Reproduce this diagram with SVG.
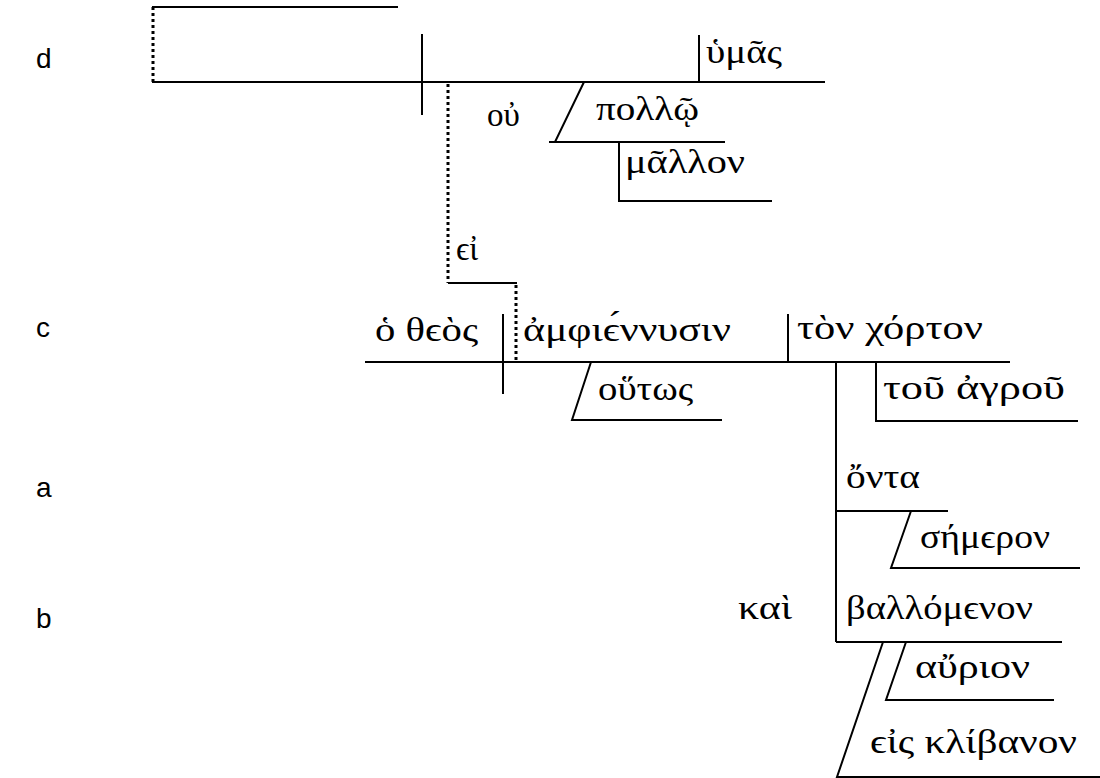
<svg xmlns="http://www.w3.org/2000/svg" width="1100" height="778" viewBox="0 0 1100 778">
<style>
.ln{stroke:#000;stroke-width:2;fill:none}
.dt{stroke:#000;stroke-width:3;fill:none;stroke-dasharray:3 3}
.g{font-family:"Liberation Serif","DejaVu Serif",serif;font-size:33px;fill:#000}
.lb{font-family:"Liberation Sans",Arial,sans-serif;font-size:28px;fill:#000}
</style>
<rect width="1100" height="778" fill="#fff"/>
<g id="labels">
<text class="lb" x="36" y="68">d</text>
<text class="lb" x="36" y="337">c</text>
<text class="lb" x="36" y="497">a</text>
<text class="lb" x="36" y="628">b</text>
</g>
<g id="connectors">
<line class="ln" x1="152" y1="7" x2="398" y2="7"/>
<line class="dt" x1="153" y1="7" x2="153" y2="82"/>
<line class="ln" x1="152" y1="82" x2="825" y2="82"/>
<line class="ln" x1="422" y1="34" x2="422" y2="115"/>
<line class="dt" x1="448" y1="84" x2="448" y2="283"/>
<line class="ln" x1="448" y1="283" x2="517" y2="283"/>
<line class="dt" x1="516" y1="285" x2="516" y2="361"/>
<line class="ln" x1="365" y1="362" x2="1010" y2="362"/>
<line class="ln" x1="503" y1="314" x2="503" y2="394"/>
<line class="ln" x1="788" y1="314" x2="788" y2="362"/>
<line class="ln" x1="836" y1="362" x2="836" y2="642"/>
</g>
<g id="n-humas">
<line class="ln" x1="699" y1="35" x2="699" y2="82"/>
<text class="g" x="706" y="63" textLength="76" lengthAdjust="spacingAndGlyphs">ὑμᾶς</text>
</g>
<g id="n-ou">
<text class="g" x="487" y="126">οὐ</text>
</g>
<g id="n-pollo">
<polyline class="ln" points="584,82 555,142 549,142 725,142"/>
<text class="g" x="596" y="120" textLength="103" lengthAdjust="spacingAndGlyphs">πολλῷ</text>
</g>
<g id="n-mallon">
<polyline class="ln" points="619,142 619,201 772,201"/>
<text class="g" x="625" y="173" textLength="120" lengthAdjust="spacingAndGlyphs">μᾶλλον</text>
</g>
<g id="n-ei">
<text class="g" x="456" y="260">ϵἰ</text>
</g>
<g id="n-theos">
<text class="g" x="375" y="341" textLength="103" lengthAdjust="spacingAndGlyphs">ὁ θϵὸς</text>
</g>
<g id="n-amph">
<text class="g" x="523" y="341" textLength="208" lengthAdjust="spacingAndGlyphs">ἀμφιϵ́ννυσιν</text>
</g>
<g id="n-houtos">
<polyline class="ln" points="591,362 572,420 722,420"/>
<text class="g" x="598" y="400" textLength="95" lengthAdjust="spacingAndGlyphs">οὕτως</text>
</g>
<g id="n-chorton">
<text class="g" x="797" y="339" textLength="186" lengthAdjust="spacingAndGlyphs">τὸν χόρτον</text>
</g>
<g id="n-agrou">
<polyline class="ln" points="876,362 876,421 1078,421"/>
<text class="g" x="883" y="399" textLength="182" lengthAdjust="spacingAndGlyphs">τοῦ ἀγροῦ</text>
</g>
<g id="n-onta">
<line class="ln" x1="836" y1="511" x2="948" y2="511"/>
<text class="g" x="846" y="488" textLength="74" lengthAdjust="spacingAndGlyphs">ὄντα</text>
</g>
<g id="n-semeron">
<polyline class="ln" points="911,511 891,568 1080,568"/>
<text class="g" x="920" y="548" textLength="130" lengthAdjust="spacingAndGlyphs">σήμϵρον</text>
</g>
<g id="n-kai">
<text class="g" x="738" y="619" textLength="54" lengthAdjust="spacingAndGlyphs">καὶ</text>
</g>
<g id="n-ballomenon">
<line class="ln" x1="836" y1="642" x2="1062" y2="642"/>
<text class="g" x="846" y="619" textLength="187" lengthAdjust="spacingAndGlyphs">βαλλόμϵνον</text>
</g>
<g id="n-aurion">
<polyline class="ln" points="906,642 886,700 1054,700"/>
<text class="g" x="915" y="678" textLength="115" lengthAdjust="spacingAndGlyphs">αὔριον</text>
</g>
<g id="n-klibanon">
<polyline class="ln" points="883,642 837,777 1100,777"/>
<text class="g" x="870" y="753" textLength="207" lengthAdjust="spacingAndGlyphs">ϵἰς κλίβανον</text>
</g>
</svg>
